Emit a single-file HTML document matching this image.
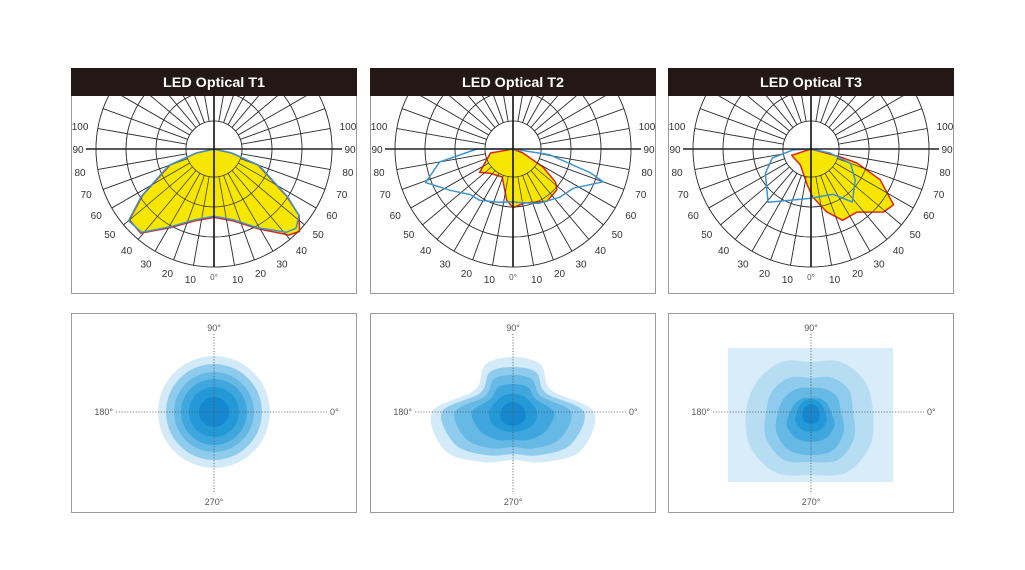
<!DOCTYPE html>
<html><head><meta charset="utf-8">
<style>
html,body{margin:0;padding:0;background:#fff;}
svg{display:block;font-family:"Liberation Sans",sans-serif;}
</style></head>
<body>
<svg id="chart" width="1025" height="570" viewBox="0 0 1025 570" xmlns="http://www.w3.org/2000/svg">
<defs>
<clipPath id="pc0"><rect x="72" y="96" width="284" height="197"/></clipPath>
<clipPath id="pc1"><rect x="371" y="96" width="284" height="197"/></clipPath>
<clipPath id="pc2"><rect x="669" y="96" width="284" height="197"/></clipPath>
</defs>
</svg>
<script>
// ---- polar (candela) data: angle from nadir (deg, negative = left), relative intensity (0..1)
const t1Angles = [-90,-77,-70,-57,-50,-41,-29,-15,0,15,29,41,46,52,57,70,77,90];
const t1Yellow = [0,0.15,0.39,0.71,0.92,0.93,0.75,0.62,0.57,0.62,0.76,0.95,0.99,0.9,0.72,0.39,0.15,0];
const t1Blue   = [0,0.16,0.40,0.72,0.93,0.92,0.74,0.61,0.56,0.61,0.75,0.92,0.95,0.9,0.73,0.40,0.16,0];
const t2YAngles = [-90,-80,-55,-44,-21,-7,0,12,33,47,52,59,68,90];
const t2Yellow  = [0,0.19,0.34,0.28,0.25,0.43,0.49,0.46,0.52,0.50,0.45,0.29,0.09,0];
const t2BAngles = [-90,-80,-69,-57,-43,-33,-15,0,7,25,44,57,70,73,81,90];
const t2Blue    = [0.30,0.62,0.78,0.63,0.52,0.51,0.46,0.44,0.45,0.50,0.56,0.60,0.80,0.67,0.31,0];
const t3YAngles = [-90,-72,-34,-6,2,14,24,36,49,56,66,73,75,90];
const t3Yellow  = [0,0.17,0.16,0.30,0.40,0.54,0.65,0.65,0.80,0.83,0.63,0.40,0.25,0];
const t3BAngles = [-90,-87,-77,-62,-39,-22,0,26,38,55,70,78,90];
const t3Blue    = [0,0.15,0.33,0.43,0.57,0.46,0.41,0.42,0.56,0.45,0.35,0.16,0];
const angleLabels = ["100","90","80","70","60","50","40","30","20","10"];
// ---- isolux contour data: radii (px) at directions 0,30,...,330 deg
const contourDirs = [0,30,60,90,120,150,180,210,240,270,300,330];
const iso1 = [[56,56,56,56,56,56,56,56,56,56,56,56],[48,48,48,48,48,48,48,48,48,48,48,48],[40,40,40,40,40,40,40,40,40,40,40,40],[33,33,33,33,33,33,33,33,33,33,33,33],[25,25,25,25,25,25,25,25,25,25,25,25],[15,15,15,15,15,15,15,15,15,15,15,15]];
const iso2 = [[81,44,55,55,55,44,81,78,58,48,58,78],[71,38,46,45,46,38,71,66,50,42,50,66],[58,32,38,37,38,32,58,54,42,35,42,54],[41,26,29,28,29,26,41,38,32,28,32,38],[24,20,19,18,19,20,24,24,21,20,21,24],[12,11,10,10,10,11,12,14,14,14,14,14]];
const iso3 = [[62,62,58,50,58,62,65,70,70,63,70,68],[42,44,40,34,40,44,45,52,55,50,55,50],[30,30,27,24,27,30,33,40,44,43,44,38],[20,18,16,14,16,18,21,28,30,30,30,27],[14,13,13,13,13,13,14,18,20,20,20,18],[8,8,8,8,8,8,8,10,12,12,12,10]];
const isoColors = ["#b7ddf3","#8fcbed","#66b8e5","#3fa7de","#2399d7","#1688cf"];

const NS="http://www.w3.org/2000/svg";
const svg=document.getElementById('chart');
function mk(tag,attrs,parent){const e=document.createElementNS(NS,tag);for(const k in attrs)e.setAttribute(k,attrs[k]);(parent||svg).appendChild(e);return e;}
const R=120, RO=118, RI=28;
function polarXY(cx,cy,ang,val){const a=ang*Math.PI/180;return [cx+val*R*Math.sin(a),cy+val*R*Math.cos(a)];}
function polarPath(cx,cy,angs,vals){let d='M'+cx+','+cy;angs.forEach((a,i)=>{const p=polarXY(cx,cy,a,vals[i]);d+=' L'+p[0].toFixed(1)+','+p[1].toFixed(1);});return d+' Z';}
function smoothClosed(pts){let d='M'+pts[0][0].toFixed(1)+','+pts[0][1].toFixed(1);const n=pts.length;for(let i=0;i<n;i++){const p0=pts[(i-1+n)%n],p1=pts[i],p2=pts[(i+1)%n],p3=pts[(i+2)%n];const c1=[p1[0]+(p2[0]-p0[0])/6,p1[1]+(p2[1]-p0[1])/6],c2=[p2[0]-(p3[0]-p1[0])/6,p2[1]-(p3[1]-p1[1])/6];d+=' C'+c1[0].toFixed(1)+','+c1[1].toFixed(1)+' '+c2[0].toFixed(1)+','+c2[1].toFixed(1)+' '+p2[0].toFixed(1)+','+p2[1].toFixed(1);}return d+'Z';}
function grid(g,cx,cy,w,op){
 for(let a=0;a<360;a+=10){if(a%90===0)continue;const r=Math.PI*a/180;
  mk('line',{x1:cx+RI*Math.cos(r),y1:cy+RI*Math.sin(r),x2:cx+RO*Math.cos(r),y2:cy+RO*Math.sin(r),stroke:'#333','stroke-width':w,'stroke-opacity':op},g);}
 [RI,58,88,RO].forEach(rr=>mk('circle',{cx:cx,cy:cy,r:rr,fill:'none',stroke:'#333','stroke-width':w,'stroke-opacity':op},g));
}
const panels=[
 {x:71,title:'LED Optical T1',yellow:[t1Angles,t1Yellow],blue:[t1Angles,t1Blue],iso:iso1},
 {x:370,title:'LED Optical T2',yellow:[t2YAngles,t2Yellow],blue:[t2BAngles,t2Blue],iso:iso2,},
 {x:668,title:'LED Optical T3',yellow:[t3YAngles,t3Yellow],blue:[t3BAngles,t3Blue],iso:iso3,square:true}
];
panels.forEach((p,pi)=>{
 const cx=p.x+143, cy=149;
 const box=mk('rect',{x:p.x+0.5,y:68.5,width:285,height:225,fill:'#fff',stroke:'#9a9a9a','stroke-width':1});
 
 
 const g=mk('g',{'clip-path':'url(#pc'+pi+')'});
 
 
 grid(g,cx,cy,0.8,1);
 const yl=mk('path',{d:polarPath(cx,cy,p.yellow[0],p.yellow[1]),fill:'rgb(246,230,0)',stroke:'#e2231a','stroke-width':1.5,'stroke-linejoin':'round'},g);
 
 
 grid(g,cx,cy,0.8,0.9);
 const bl=mk('path',{d:polarPath(cx,cy,p.blue[0],p.blue[1]),fill:'none',stroke:'#3b95d0','stroke-width':1.5,'stroke-linejoin':'round'},g);
 
 
 mk('line',{x1:cx-RO-10,y1:cy,x2:cx+RO+10,y2:cy,stroke:'#222','stroke-width':1.4},g);
 mk('line',{x1:cx,y1:96,x2:cx,y2:cy+RO,stroke:'#111','stroke-width':1.6},g);
 const hd=mk('rect',{x:p.x,y:68,width:286,height:28,fill:'#231815'});
 
 
 const tt=mk('text',{x:cx,y:87,'text-anchor':'middle',fill:'#fff','font-size':14,'font-weight':'bold',textLength:102,lengthAdjust:'spacingAndGlyphs'});
 tt.textContent=p.title;
 
 
 angleLabels.forEach((lab,i)=>{const ang=100-10*i;[-1,1].forEach(s=>{const q=polarXY(cx,cy,s*ang,1.1);
  const t=mk('text',{x:q[0]+(s<0?-4:4)*Math.sin(ang*Math.PI/180),y:q[1]+4,'text-anchor':'middle',fill:'#333','font-size':10});t.textContent=lab;
  
  });});
 const z=mk('text',{x:cx,y:cy+131,'text-anchor':'middle',fill:'#555','font-size':8});z.textContent='0°';
 
 

 const icy=412;
 const b2=mk('rect',{x:p.x+0.5,y:313.5,width:285,height:199,fill:'#fff',stroke:'#9a9a9a','stroke-width':1});
 
 
 if(p.square){const sq=mk('rect',{x:cx-83,y:348,width:165,height:134,fill:'#d8ecf9'});
  
  }
 p.iso.forEach((radii,li)=>{const pts=contourDirs.map((d,k)=>{const a=d*Math.PI/180;return [cx+radii[k]*Math.cos(a),icy-radii[k]*Math.sin(a)];});
  const c=mk('path',{d:smoothClosed(pts),fill:p.square?isoColors[li]:(li===0?'#d3eaf8':isoColors[li])});
  
  });
 mk('line',{x1:cx,y1:334,x2:cx,y2:494,stroke:'#555','stroke-width':0.8,'stroke-dasharray':'1.2 1.6'});
 mk('line',{x1:p.x+45,y1:icy,x2:p.x+256,y2:icy,stroke:'#555','stroke-width':0.8,'stroke-dasharray':'1.2 1.6'});
 [['90°',cx,331,'middle'],['270°',cx,505,'middle'],['180°',p.x+42,415,'end'],['0°',p.x+259,415,'start']].forEach(l=>{
  const t=mk('text',{x:l[1],y:l[2],'text-anchor':l[3],fill:'#555','font-size':9});t.textContent=l[0];
  
  });
});
</script>
</body></html>
